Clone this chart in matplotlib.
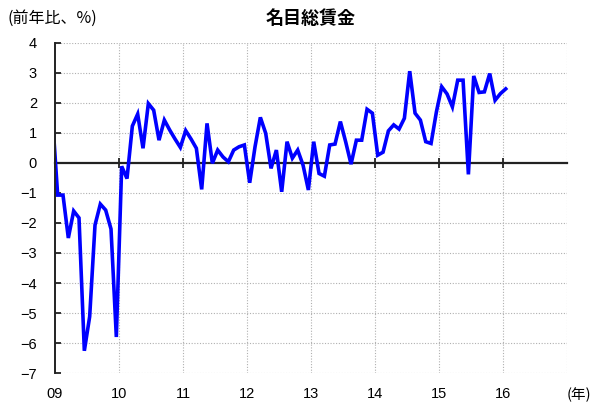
import numpy as np
import matplotlib.pyplot as plt

plt.rcParams['font.family'] = ['Liberation Sans', 'Noto Sans CJK JP', 'DejaVu Sans']

# 名目総賃金 前年比(%)  2008/12 - 2016/01, monthly
start_year, start_month = 2008, 12
wages = [
    1.6,
    # 2009
    -1.07, -1.07, -2.5, -1.6, -1.83, -6.26, -5.12, -2.07, -1.37, -1.57, -2.2, -5.8,
    # 2010
    -0.11, -0.52, 1.23, 1.63, 0.49, 1.98, 1.76, 0.76, 1.43, 1.1, 0.8, 0.52,
    # 2011
    1.08, 0.8, 0.49, -0.88, 1.32, -0.01, 0.43, 0.2, 0.04, 0.43, 0.54, 0.6,
    # 2012
    -0.66, 0.54, 1.52, 0.99, -0.18, 0.43, -0.96, 0.71, 0.16, 0.43, -0.07, -0.9,
    # 2013
    0.71, -0.35, -0.44, 0.6, 0.63, 1.38, 0.7, -0.04, 0.76, 0.76, 1.79, 1.66,
    # 2014
    0.26, 0.36, 1.07, 1.27, 1.13, 1.49, 3.06, 1.66, 1.43, 0.71, 0.65, 1.7,
    # 2015
    2.54, 2.3, 1.87, 2.76, 2.76, -0.38, 2.9, 2.35, 2.37, 2.98, 2.09, 2.31,
    # 2016
    2.47,
]
year_ticks = list(range(2009, 2018))
year_labels = ['09', '10', '11', '12', '13', '14', '15', '16', '']

# month midpoints
months = np.arange(len(wages)) + (start_month - 1)
x = start_year + (months + 0.5) / 12

fig = plt.figure(figsize=(5.92, 4.03), dpi=100)
ax = fig.add_axes([0.0929, 0.0744, 0.865, 0.819])

ax.plot(x, wages, color='#0000ff', lw=2.6, solid_joinstyle='miter')

ax.set_xlim(2009, 2017)
ax.set_ylim(-7, 4)
ax.set_yticks(range(-7, 5))
ax.set_xticks(year_ticks[:-1])
ax.set_xticklabels([])

grid_style = dict(color='#b0b0b0', lw=0.8, ls=(0, (1, 1.5)), zorder=0)
for v in range(-7, 5):
    if v != 0:
        ax.axhline(v, **grid_style)
for yr in year_ticks[1:]:
    ax.axvline(yr, **grid_style)

ax.spines['top'].set_visible(False)
ax.spines['right'].set_visible(False)
ax.spines['left'].set_linewidth(1.4)
ax.spines['left'].set_color('#222222')
ax.spines['bottom'].set_position(('data', 0))
ax.spines['bottom'].set_linewidth(1.6)
ax.spines['bottom'].set_color('#222222')
ax.spines['bottom'].set_zorder(1)

ax.tick_params(axis='x', direction='inout', length=7, width=1.3, color='#222222')
ax.tick_params(axis='y', direction='in', length=4, width=1.3, color='#222222',
               pad=13, labelsize=10.5)

sec = ax.secondary_xaxis('bottom')
sec.set_xticks(year_ticks)
sec.set_xticklabels(year_labels)
sec.spines['bottom'].set_visible(False)
sec.tick_params(length=0, pad=10, labelsize=10.5)

fig.text(0.525, 0.955, '名目総賃金', ha='center', va='center', fontsize=13,
         fontweight='bold', family=['Noto Sans CJK JP'])
fig.text(0.012, 0.955, '(前年比、%)', ha='left', va='center', fontsize=11.5,
         family=['Noto Sans CJK JP'])
fig.text(0.957, 0.003, '(年)', ha='left', va='bottom', fontsize=10.5,
         family=['Noto Sans CJK JP'])

fig.savefig('out.png', dpi=100)
